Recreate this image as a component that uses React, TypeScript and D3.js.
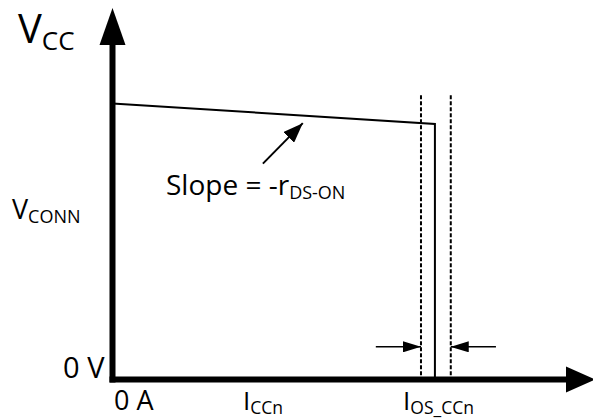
import React from "react";
import * as d3 from "d3";

// Data (x: current, arbitrary units 0..10; y: voltage, arbitrary units 0..10)
const curveCurrent = [0, 6.71, 6.71];
const curveVoltage = [7.43, 6.88, 0];
const limitCurrents = [6.42, 7.04]; // dotted limits around I_OS_CCn
const limitTop = 7.65;
const slopeArrowFrom = [3.13, 5.81];
const slopeArrowTo = [3.96, 6.9];
const tolArrowY = 0.88;
const tolArrowOuter = [5.48, 7.98];

const W = 593;
const H = 419;
const FONT = "'Open Sans', sans-serif";

export default function App() {
  const x = d3.scaleLinear().domain([0, 10]).range([112.5, 593]);
  const y = d3.scaleLinear().domain([0, 10]).range([379.5, 8]);

  const pts: [number, number][] = curveCurrent.map((c, i) => [x(c), y(curveVoltage[i])]);
  const line = d3.line<[number, number]>().x((d) => d[0]).y((d) => d[1]);

  const x0 = x(0);
  const y0 = y(0);

  return (
    <svg width={W} height={H} style={{ position: "absolute", left: 0, top: 0, background: "#fff" }}>
      <defs>
        <marker id="ah2" viewBox="0 0 10 10" refX="10" refY="5" markerWidth="18" markerHeight="11" markerUnits="userSpaceOnUse" orient="auto" preserveAspectRatio="none">
          <path d="M0,0 L10,5 L0,10 z" fill="#000" />
        </marker>
        <marker id="ah3" viewBox="0 0 10 10" refX="10" refY="5" markerWidth="20" markerHeight="15" markerUnits="userSpaceOnUse" orient="auto" preserveAspectRatio="none">
          <path d="M0,0 L10,5 L0,10 z" fill="#000" />
        </marker>
      </defs>

      {/* Axes */}
      <line x1={x0} y1={y0 + 3} x2={x0} y2={45} stroke="#000" strokeWidth={6} />
      <path d={`M${x0 - 13},45 L${x0},8 L${x0 + 13},45 Z`} fill="#000" />
      <line x1={x0 - 3} y1={y0} x2={566} y2={y0} stroke="#000" strokeWidth={6} />
      <path d={`M566,${y0 - 13} L${W + 2},${y0} L566,${y0 + 13} Z`} fill="#000" />

      {/* Curve */}
      <path d={line(pts) || ""} fill="none" stroke="#000" strokeWidth={2} />

      {/* Dotted limits */}
      {limitCurrents.map((c, i) => (
        <line key={i} x1={x(c)} x2={x(c)} y1={y(limitTop)} y2={y0 - 3} stroke="#000" strokeWidth={2} strokeDasharray="4,2" />
      ))}

      {/* Tolerance arrows */}
      <line x1={x(tolArrowOuter[0])} y1={y(tolArrowY)} x2={x(limitCurrents[0])} y2={y(tolArrowY)} stroke="#000" strokeWidth={1.5} markerEnd="url(#ah2)" />
      <line x1={x(tolArrowOuter[1])} y1={y(tolArrowY)} x2={x(limitCurrents[1])} y2={y(tolArrowY)} stroke="#000" strokeWidth={1.5} markerEnd="url(#ah2)" />

      {/* Slope arrow */}
      <line x1={x(slopeArrowFrom[0])} y1={y(slopeArrowFrom[1])} x2={x(slopeArrowTo[0])} y2={y(slopeArrowTo[1])} stroke="#000" strokeWidth={2} markerEnd="url(#ah3)" />

      {/* Labels */}
      <g fontFamily={FONT} fill="#000">
        <text x={18} y={43} fontSize={40}>V<tspan fontSize={26} dy={7}>CC</tspan></text>

        <text x={12} y={219} fontSize={27}>V<tspan fontSize={18} dy={4}>CONN</tspan></text>

        <text x={x0 - 8} y={378} fontSize={29} textAnchor="end">0 V</text>
        <text x={114} y={410} fontSize={27}>0 A</text>

        <text x={243} y={410} fontSize={26}>I<tspan fontSize={17.5} dy={4}>CCn</tspan></text>

        <text x={403} y={410} fontSize={26}>I<tspan fontSize={17.5} dy={4}>OS_CCn</tspan></text>

        <text x={166} y={195} fontSize={28}>Slope = -r<tspan fontSize={18} dy={4}>DS-ON</tspan></text>
      </g>
    </svg>
  );
}
